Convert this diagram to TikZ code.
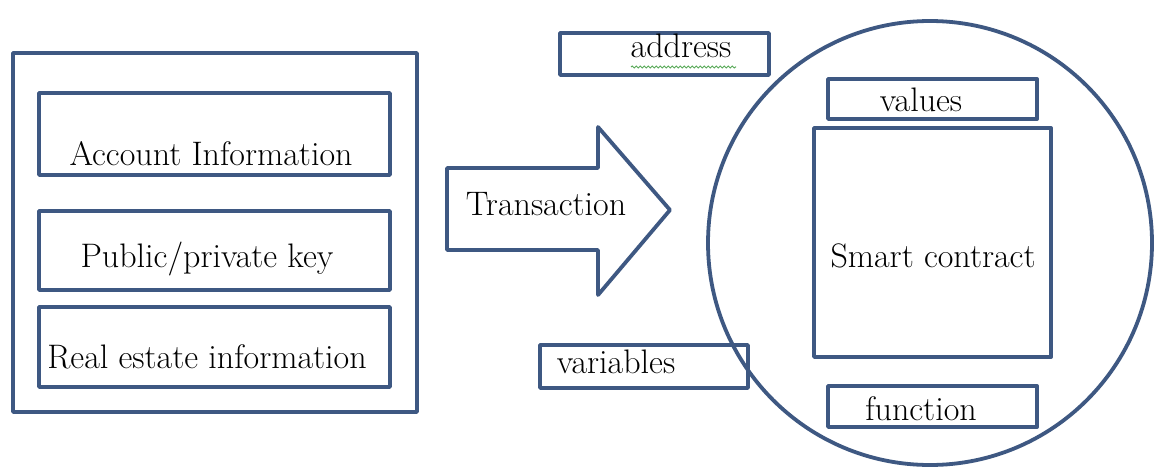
\documentclass[tikz,border=0pt]{standalone}
\usetikzlibrary{decorations.pathmorphing}
\definecolor{edge}{RGB}{62,88,130}
\definecolor{spell}{RGB}{90,170,90}
\tikzset{
  boxline/.style={draw=edge, line width=3.8pt, line join=round},
  lbl/.style={inner sep=0pt, anchor=base, font=\fontsize{34}{40}\selectfont, text=black}
}
\begin{document}
\begin{tikzpicture}[x=1pt,y=-1pt]
\useasboundingbox (0,0) rectangle (1155,468);
\fill[white] (0,0) rectangle (1155,468);
% left group
\draw[boxline] (13,53) rectangle (417,412);
\draw[boxline] (39,93) rectangle (390,175);
\draw[boxline] (39,211) rectangle (390,290);
\draw[boxline] (39,307) rectangle (390,387);
\node[lbl] (acc) at (211,165) {Account Information};
\node[lbl] (key) at (207,267) {Public/private key};
\node[lbl] (real) at (207,368) {Real estate information};
% arrow
\draw[boxline, fill=white] (447,168) -- (598,168) -- (598,127) -- (670,210) -- (598,295) -- (598,250) -- (447,250) -- cycle;
\node[lbl] (tx) at (546,215) {Transaction};
% circle
\draw[boxline] (930,243) circle[radius=222];
% address and variables
\draw[boxline] (560,33) rectangle (769,75);
\node[lbl] (addr) at (681,58) {address};
\draw[spell, line width=1pt, decorate, decoration={snake, amplitude=1pt, segment length=4pt}] (631,67) -- (736,67);
\draw[boxline] (540,345) rectangle (748,388);
\node[lbl] (vars) at (616,373) {variables};
% inside circle
\draw[boxline] (828,79) rectangle (1037,119);
\node[lbl] (vals) at (921,112) {values};
\draw[boxline] (814,128) rectangle (1051,357);
\node[lbl] (sc) at (933,267) {Smart contract};
\draw[boxline] (828,386) rectangle (1037,427);
\node[lbl] (fn) at (921,420) {function};
\end{tikzpicture}
\end{document}
